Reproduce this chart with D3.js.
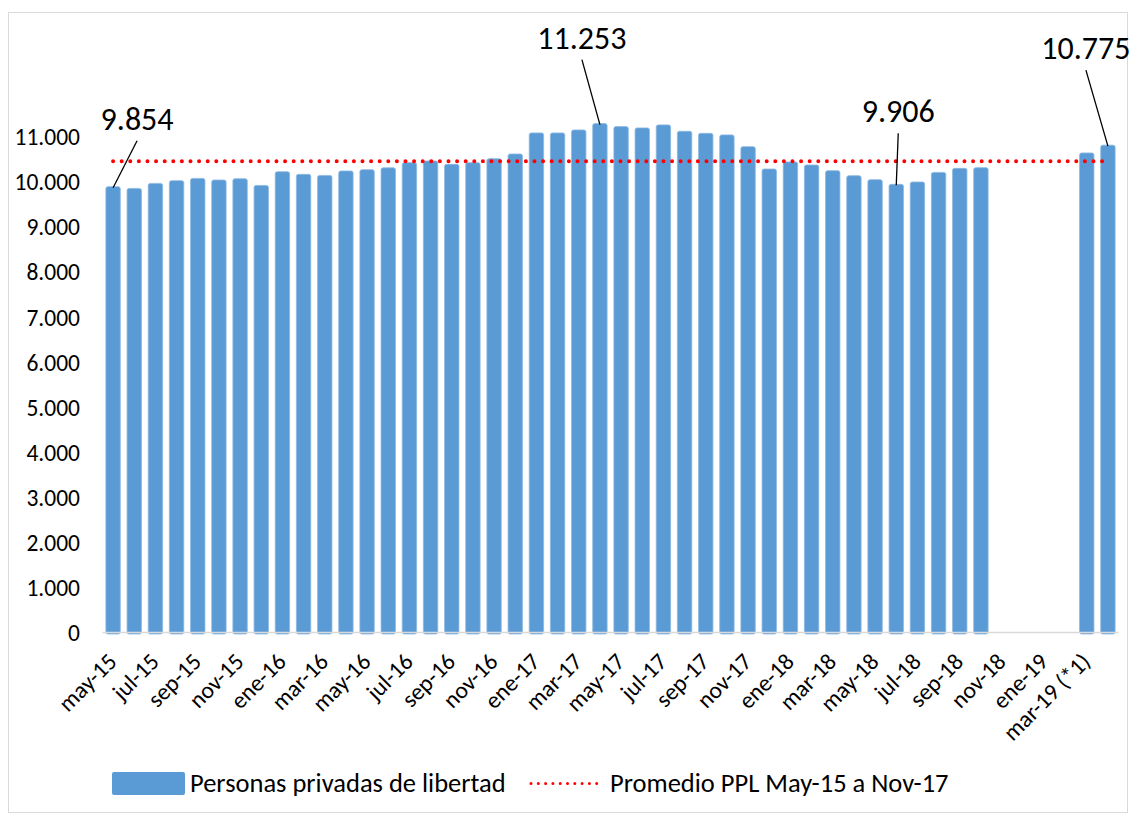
<!DOCTYPE html>
<html lang="es">
<head>
<meta charset="UTF-8"/>
<title>Personas privadas de libertad</title>
<style>
  body { margin: 0; background: #fff; }
  svg { display: block; font-family: Carlito, Calibri, Lato, sans-serif; }
</style>
</head>
<body>
<svg id="chart" width="1132" height="814"></svg>
<script src="https://d3js.org/d3.v7.min.js"></script>
<script type="text/javascript">

    // months May-15 .. Apr-19
    var categories = [
        "may-15", "jun-15", "jul-15", "ago-15", "sep-15", "oct-15", "nov-15", "dic-15",
        "ene-16", "feb-16", "mar-16", "abr-16", "may-16", "jun-16", "jul-16", "ago-16",
        "sep-16", "oct-16", "nov-16", "dic-16", "ene-17", "feb-17", "mar-17", "abr-17",
        "may-17", "jun-17", "jul-17", "ago-17", "sep-17", "oct-17", "nov-17", "dic-17",
        "ene-18", "feb-18", "mar-18", "abr-18", "may-18", "jun-18", "jul-18", "ago-18",
        "sep-18", "oct-18", "nov-18", "dic-18", "ene-19", "feb-19", "mar-19 (*1)", "abr-19"
    ];

    var ppl = [
        9854, 9816, 9927, 9987, 10038, 10002, 10031, 9882,
        10186, 10127, 10104, 10202, 10231, 10272, 10386, 10424,
        10349, 10386, 10475, 10579, 11046, 11046, 11112, 11253,
        11186, 11157, 11224, 11082, 11037, 11002, 10742, 10246,
        10402, 10335, 10209, 10098, 10009, 9906, 9958, 10171,
        10260, 10276, null, null, null, null, 10602, 10775
    ];

    var promedio = 10420;

    var yTicks = [0, 1000, 2000, 3000, 4000, 5000, 6000, 7000, 8000, 9000, 10000, 11000];

    // bars with a callout label
    var callouts = [0, 23, 37, 47];
    var calloutText = ["9.854", "11.253", "9.906", "10.775"];
    var calloutOffset = [[24, -68], [-18, -86], [2, -73], [-22, -97]];

    var legendLabels = ["Personas privadas de libertad", "Promedio PPL May-15 a Nov-17"];

    var svg = d3.select("#chart");
    var blue = "#5b9bd5";

    var fmt = d3.formatLocale({decimal: ",", thousands: ".", grouping: [3], currency: ["", ""]}).format(",d");

    // outer frame
    svg.append("rect")
        .attr("x", 8.5).attr("y", 12.5)
        .attr("width", 1119).attr("height", 800)
        .attr("fill", "none")
        .attr("stroke", "#d9d9d9");

    var x = d3.scaleBand()
        .domain(categories)
        .range([102.5, 1118.5])
        .paddingInner(0.32)
        .paddingOuter(0.16);

    var y = d3.scaleLinear()
        .domain([0, 11000])
        .range([631, 135]);

    // y tick labels
    svg.append("g")
        .selectAll("text")
        .data(yTicks)
        .enter().append("text")
        .attr("x", 80)
        .attr("y", function (d) { return y(d) + 2; })
        .attr("dy", "0.35em")
        .attr("text-anchor", "end")
        .style("font-size", "23.5px")
        .style("fill", "#000")
        .text(function (d) { return fmt(d); });

    // bars
    svg.append("g")
        .selectAll("rect")
        .data(ppl.map(function (v, i) { return {c: categories[i], v: v}; })
            .filter(function (d) { return d.v !== null; }))
        .enter().append("rect")
        .attr("x", function (d) { return x(d.c); })
        .attr("y", function (d) { return y(d.v); })
        .attr("width", x.bandwidth())
        .attr("height", function (d) { return y(0) - y(d.v) + 3; })
        .attr("rx", 2)
        .attr("fill", blue)
        .attr("stroke", "#8cb8e2")
        .attr("stroke-width", 0.8);

    // category axis line
    svg.append("line")
        .attr("x1", 102.5).attr("x2", 1118.5)
        .attr("y1", y(0) + 1.5).attr("y2", y(0) + 1.5)
        .attr("stroke", "#d9d9d9")
        .attr("stroke-width", 1.5);

    // average line
    var half = x.bandwidth() / 2;
    svg.append("line")
        .attr("x1", x(categories[0]) + half)
        .attr("x2", x(categories[categories.length - 1]) + half)
        .attr("y1", y(promedio)).attr("y2", y(promedio))
        .attr("stroke", "#ff0000")
        .attr("stroke-width", 4)
        .attr("stroke-linecap", "round")
        .attr("stroke-dasharray", "0 8.6");

    // x labels, every second month
    svg.append("g")
        .selectAll("text")
        .data(categories.filter(function (d, i) { return i % 2 === 0; }))
        .enter().append("text")
        .attr("transform", function (d) {
            return "translate(" + (x(d) + half + 5) + "," + 663 + ") rotate(-45)";
        })
        .attr("text-anchor", "end")
        .style("font-size", "23.5px")
        .style("fill", "#000")
        .text(function (d) { return d; });

    // callouts
    var cg = svg.append("g");
    callouts.forEach(function (idx, k) {
        var bx = x(categories[idx]) + half,
            by = y(ppl[idx]),
            tx = bx + calloutOffset[k][0],
            ty = by + calloutOffset[k][1];
        cg.append("line")
            .attr("x1", tx).attr("y1", ty + 22)
            .attr("x2", bx).attr("y2", by + 1)
            .attr("stroke", "#000")
            .attr("stroke-width", 1.3);
        cg.append("text")
            .attr("x", tx).attr("y", ty + 11)
            .attr("text-anchor", "middle")
            .style("font-size", "32px")
            .style("fill", "#000")
            .text(calloutText[k]);
    });

    // legend
    var lg = svg.append("g");
    lg.append("rect")
        .attr("x", 112).attr("y", 772)
        .attr("width", 73).attr("height", 23)
        .attr("rx", 2)
        .attr("fill", blue);
    lg.append("text")
        .attr("x", 190).attr("y", 792)
        .style("font-size", "26.5px")
        .text(legendLabels[0]);
    lg.append("line")
        .attr("x1", 531).attr("x2", 597)
        .attr("y1", 783.5).attr("y2", 783.5)
        .attr("stroke", "#ff0000")
        .attr("stroke-width", 3)
        .attr("stroke-linecap", "round")
        .attr("stroke-dasharray", "0 7.3");
    lg.append("text")
        .attr("x", 610).attr("y", 792)
        .style("font-size", "26.5px")
        .text(legendLabels[1]);
</script>
</body>
</html>
